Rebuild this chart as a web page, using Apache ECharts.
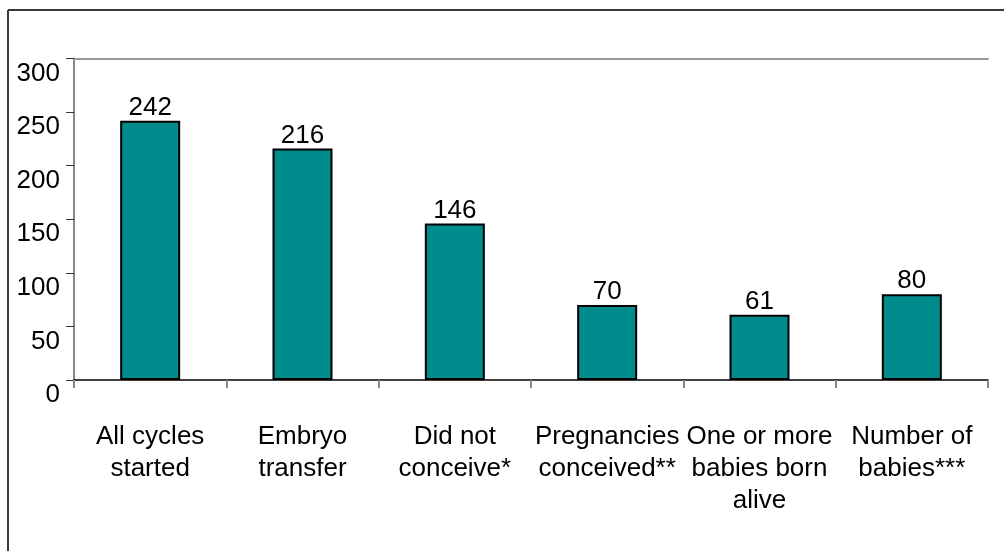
<!DOCTYPE html>
<html>
<head>
<meta charset="utf-8">
<script src="https://cdn.jsdelivr.net/npm/echarts@6/dist/echarts.min.js"></script>
<style>
  html, body { margin: 0; padding: 0; background: #fff; }
  #chart { width: 1004px; height: 551px; }
</style>
</head>
<body>
<div id="chart"></div>
<script>
// categories and values
var categories = [
  'All cycles\nstarted',
  'Embryo\ntransfer',
  'Did not\nconceive*',
  'Pregnancies\nconceived**',
  'One or more\nbabies born\nalive',
  'Number of\nbabies***'
];
var cycles = [242, 216, 146, 70, 61, 80];
var yTicks = [0, 50, 100, 150, 200, 250, 300];

var myChart = echarts.init(document.getElementById('chart'));

var font = 'Liberation Sans, Arial, sans-serif';

var option = {
  animation: false,
  backgroundColor: '#fff',
  // frame lines on the top and left edge
  graphic: [
    { type: 'line', shape: { x1: 8, y1: 10, x2: 1004, y2: 10 }, style: { stroke: '#3a3a3a', lineWidth: 2 } },
    { type: 'line', shape: { x1: 8, y1: 10, x2: 8, y2: 551 }, style: { stroke: '#3a3a3a', lineWidth: 2 } }
  ],
  grid: {
    left: 74,
    right: 16,
    top: 58.5,
    bottom: 171
  },
  xAxis: [
    {
      type: 'category',
      data: categories,
      axisLine: { lineStyle: { color: '#000', width: 1.5 } },
      axisTick: { show: true, length: 8, lineStyle: { color: '#888', width: 2 } },
      axisLabel: {
        color: '#000',
        fontFamily: font,
        fontSize: 26,
        lineHeight: 32,
        margin: 41,
        interval: 0
      }
    },
    {
      // top border of the plot at 300
      type: 'category',
      position: 'top',
      data: categories,
      axisLine: { lineStyle: { color: '#999', width: 2 } },
      axisTick: { show: false },
      axisLabel: { show: false }
    }
  ],
  yAxis: {
    type: 'value',
    min: 0,
    max: 300,
    interval: 50,
    splitLine: { show: false },
    axisLine: { show: true, lineStyle: { color: '#888', width: 2 } },
    axisTick: { show: true, length: 8, lineStyle: { color: '#333', width: 1 } },
    axisLabel: {
      color: '#000',
      fontFamily: font,
      fontSize: 26,
      margin: 14,
      verticalAlign: 'top',
      padding: [2, 0, 0, 0],
      formatter: function (v) {
        return yTicks.indexOf(v) >= 0 ? String(v) : '';
      }
    }
  },
  series: [
    {
      type: 'bar',
      data: cycles,
      barWidth: 60,
      itemStyle: {
        color: '#008c8c',
        borderColor: '#000',
        borderWidth: 2
      },
      label: {
        show: true,
        position: 'top',
        distance: 0,
        color: '#000',
        fontFamily: font,
        fontSize: 26
      }
    }
  ]
};

myChart.setOption(option);
</script>
</body>
</html>
